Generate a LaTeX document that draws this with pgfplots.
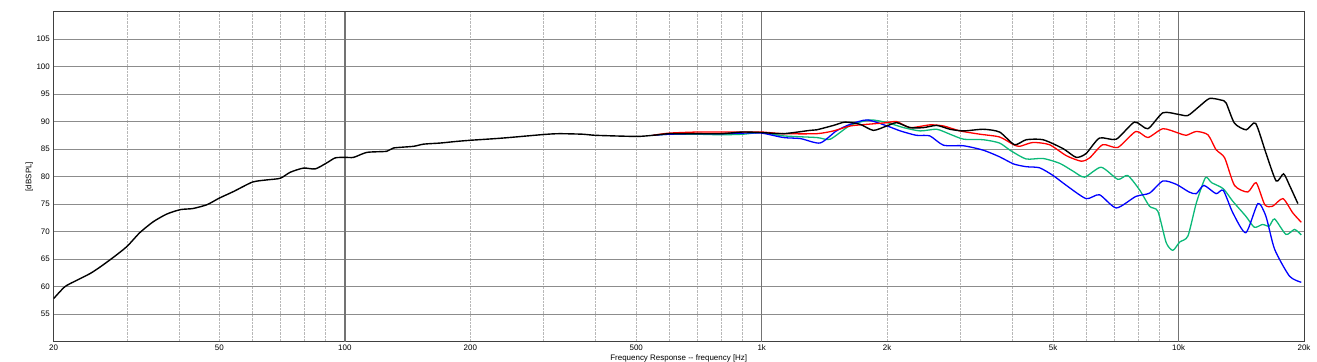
\documentclass[border=0pt]{standalone}
\usepackage{fontspec}
\setmainfont{Liberation Sans}
\usepackage{pgfplots}
\pgfplotsset{compat=1.18}
\definecolor{cgreen}{RGB}{10,185,120}
\definecolor{cblue}{RGB}{0,0,255}
\definecolor{cred}{RGB}{255,0,0}
\begin{document}
\begin{tikzpicture}
\begin{axis}[
  at={(53.5bp,20.3bp)}, anchor=south west,
  scale only axis, width=1250.5bp, height=330.2bp,
  xmode=log, xmin=20, xmax=20000, ymin=50, ymax=110,
  log basis x=10,
  xtick={20,50,100,200,500,1000,2000,5000,10000,20000},
  xticklabels={20,50,100,200,500,1k,2k,5k,10k,20k},
  minor xtick={30,40,50,60,70,80,90,200,300,400,500,600,700,800,900,2000,3000,4000,5000,6000,7000,8000,9000},
  extra x ticks={100,1000,10000},
  extra x tick labels={},
  extra x tick style={grid=major, major grid style={black!55, line width=1.5bp}},
  ytick={55,60,...,105},
  xmajorgrids=false, xminorgrids=true, ymajorgrids=true,
  minor grid style={black!28, densely dotted, line width=0.8bp},
  major grid style={black!45, line width=1bp},
  major tick length=0pt, minor tick length=0pt,
  axis line style={black!75, line width=0.9bp},
  tick label style={font=\fontsize{8}{9}\selectfont},
  xticklabel style={anchor=base, yshift=-8.8bp, inner sep=0pt},
  yticklabel style={anchor=east, xshift=-3.5bp, inner sep=0pt},
  /pgf/number format/assume math mode=true,
  label style={font=\fontsize{8}{9}\selectfont},
  xlabel={Frequency Response -{}- frequency [Hz]},
  xlabel style={at={(axis description cs:0.5,-0.0584)}, anchor=base, inner sep=0pt},
  ylabel={[dBSPL]},
  ylabel style={at={(axis description cs:-0.01936,0.5)}, anchor=center, inner sep=0pt},
  clip=true,
]
\addplot[cgreen, line width=1.3bp, smooth, tension=0.4] coordinates {
(548,87.5)(600,87.7)(700,87.7)(800,87.6)(900,87.7)(1000,88.0)(1127,87.4)(1355,87.1)(1460,86.8)(1630,89.3)(1820,90.3)(2000,89.8)(2190,88.9)(2400,88.3)(2630,88.6)(2830,87.7)(3050,86.8)(3400,86.7)(3720,86.1)(3960,84.7)(4310,83.2)(4730,83.3)(5190,82.4)(5580,81.0)(5950,79.9)(6520,81.7)(7150,79.5)(7550,80.2)(8060,77.6)(8520,74.6)(8920,73.7)(9340,68.0)(9690,66.6)(10060,68.1)(10530,69.2)(11030,75.2)(11600,79.8)(12000,78.9)(12800,77.8)(13500,75.5)(14500,72.8)(15200,70.8)(15900,71.3)(16500,71.0)(17000,72.3)(18100,69.5)(18980,70.4)(19700,69.4)
};
\addplot[cblue, line width=1.3bp, smooth, tension=0.4] coordinates {
(548,87.5)(600,87.7)(700,87.8)(800,87.8)(900,87.9)(1000,87.9)(1127,87.1)(1240,86.9)(1380,86.1)(1510,88.3)(1630,89.5)(1790,90.3)(2000,89.2)(2150,88.3)(2350,87.5)(2530,87.4)(2730,85.7)(3050,85.6)(3400,84.8)(3720,83.6)(4020,82.3)(4310,81.8)(4640,81.6)(5000,80.2)(5380,78.4)(6000,76.0)(6460,76.7)(7090,74.3)(7900,76.4)(8520,77.0)(9170,79.2)(9870,78.6)(10600,77.2)(11030,76.9)(11500,78.4)(12300,76.9)(12800,77.5)(13500,73.4)(14500,69.8)(15500,75.1)(16200,72.8)(17000,66.8)(18460,61.9)(19700,60.8)
};
\addplot[cred, line width=1.3bp, smooth, tension=0.4] coordinates {
(548,87.5)(600,87.9)(700,88.1)(800,88.1)(900,88.1)(1000,88.1)(1127,87.8)(1355,87.8)(1486,88.3)(1630,89.2)(1790,89.5)(2000,89.8)(2108,90.0)(2269,88.9)(2530,89.4)(2730,89.2)(2990,88.3)(3340,87.7)(3720,87.2)(4020,85.8)(4160,85.5)(4470,86.2)(4900,85.8)(5380,83.8)(5840,82.8)(6120,83.4)(6580,85.8)(7150,85.3)(7900,88.2)(8440,87.1)(9170,88.7)(10000,87.9)(10430,87.5)(11030,88.2)(11760,87.6)(12300,84.9)(12900,83.4)(13620,78.4)(14660,77.2)(15350,78.9)(16100,74.9)(16800,74.6)(17800,76.0)(18800,73.4)(19700,71.7)
};
\addplot[black, line width=1.4bp, smooth, tension=0.4] coordinates {
(20,57.8)(21.3,60.0)(22.8,61.2)(24.5,62.4)(25.9,63.6)(27.8,65.3)(30,67.3)(32.2,69.8)(34.7,71.8)(37.4,73.2)(40.3,74.0)(43.2,74.2)(46.7,74.9)(50,76.1)(54.1,77.3)(60,79.0)(65,79.4)(70,79.7)(74,80.8)(79.6,81.55)(84.9,81.4)(90.5,82.5)(94.8,83.4)(100,83.5)(105,83.5)(112.9,84.4)(126,84.6)(130.8,85.2)(146,85.5)(154.5,85.9)(169.4,86.1)(185.6,86.4)(200,86.6)(239,87.0)(300,87.65)(327,87.8)(373,87.7)(400,87.5)(500,87.3)(548,87.5)(600,87.8)(700,87.8)(800,87.8)(900,88.1)(1000,88.0)(1127,87.8)(1306,88.4)(1355,88.5)(1486,89.3)(1585,89.9)(1722,89.5)(1853,88.4)(1995,89.2)(2108,89.8)(2269,88.9)(2443,88.9)(2630,89.3)(2830,88.6)(3050,88.3)(3400,88.6)(3720,88.1)(4040,85.8)(4310,86.7)(4730,86.7)(5280,85.1)(5680,83.5)(6000,84.2)(6460,87.0)(7090,86.8)(7840,89.9)(8440,88.7)(9170,91.6)(10000,91.3)(10530,91.1)(11230,92.8)(11870,94.2)(12660,93.9)(13000,93.4)(13620,89.7)(14530,88.5)(15300,89.7)(16200,84.3)(17150,79.2)(17860,80.5)(18460,78.4)(19330,75.1)
};
\end{axis}
\pgfresetboundingbox
\path[use as bounding box] (0,0) rectangle (1317bp,362bp);
\end{tikzpicture}
\end{document}
